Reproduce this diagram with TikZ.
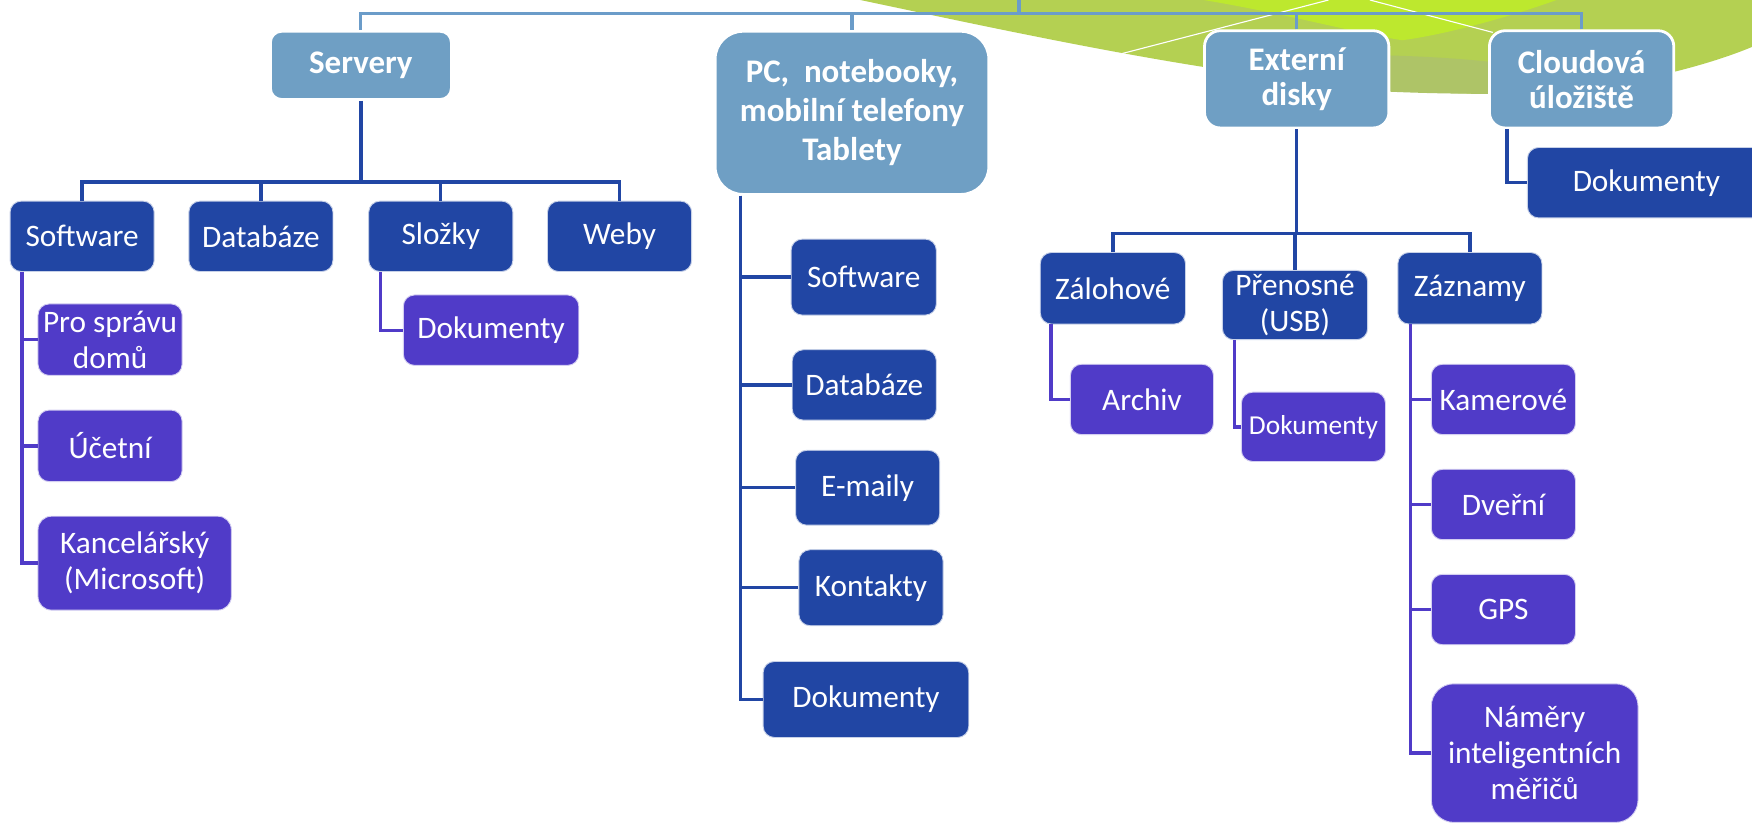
\documentclass[tikz,border=0pt]{standalone}
\usepackage{fontspec}
\setmainfont{Carlito}
\definecolor{headblue}{HTML}{6F9FC4}
\definecolor{linkblue}{HTML}{6B9CC9}
\definecolor{darkblue}{HTML}{2146A4}
\definecolor{purp}{HTML}{503BC8}
\definecolor{olivea}{HTML}{B4D052}
\definecolor{limea}{HTML}{BDE82E}
\definecolor{oliveb}{HTML}{AEC467}
\begin{document}
\begin{tikzpicture}[x=1pt,y=-1pt,
  head/.style={rectangle, rounded corners=14pt, fill=headblue, draw=white, line width=2.5pt, text=white, font=\fontsize{29.5}{35}\selectfont\bfseries, align=center, inner sep=0pt},
  lvltwo/.style={rectangle, rounded corners=10pt, fill=darkblue, draw=white!75!darkblue, line width=0.8pt, text=white, font=\fontsize{28}{32}\selectfont, align=center, inner sep=0pt},
  lvlthree/.style={lvltwo, fill=purp, draw=white!75!purp},
  toplink/.style={draw=linkblue, line width=2.8pt},
  darklink/.style={draw=darkblue, line width=3pt},
  purplink/.style={draw=purp, line width=3pt}]
\useasboundingbox (0,0) rectangle (1568,736);
\fill[white] (0,0) rectangle (1568,736);
% decorative green swoosh
\fill[olivea] (770,0) .. controls (950,38) and (1150,82) .. (1330,84) .. controls (1430,85) and (1520,62) .. (1568,42) -- (1568,0) -- cycle;
\fill[oliveb] (1090,48) .. controls (1170,50) and (1250,46) .. (1340,56) -- (1340,84) .. controls (1250,84) and (1170,80) .. (1090,66) -- cycle;
\fill[limea] (1077,0) .. controls (1150,12) and (1215,30) .. (1255,36) .. controls (1300,30) and (1360,12) .. (1393,0) -- cycle;
\draw[white, line width=1pt] (1004,48) -- (1189,0);
\draw[white, line width=1pt] (1226,0) -- (1336,29);
% top level
\node[head, minimum width=162pt, minimum height=61pt, rounded corners=10pt] (serv) at (323,58.5) {Servery};
\node[head, minimum width=245pt, minimum height=146pt, rounded corners=25pt] (pc) at (762.5,101) {PC,~ notebooky,\\mobilní telefony\\Tablety};
\node[head, minimum width=165pt, minimum height=87pt, font=\fontsize{29.5}{31}\selectfont\bfseries] (ext) at (1160.5,71) {Externí\\disky};
\node[head, minimum width=165pt, minimum height=87pt, font=\fontsize{29.5}{31}\selectfont\bfseries] (cloud) at (1415.5,71) {Cloudová\\úložiště};
\coordinate (rtop) at (912,0);
\coordinate (rbus) at (912,12);
\draw[toplink] (rtop) -- (rbus);
\draw[toplink] (serv.north) |- (rbus);
\draw[toplink] (pc.north) |- (rbus);
\draw[toplink] (ext.north) |- (rbus);
\draw[toplink] (cloud.north) |- (rbus);
% Servery
\node[lvltwo, minimum width=129pt, minimum height=63pt] (ssw) at (73.5,211.5) {Software};
\node[lvltwo, minimum width=129pt, minimum height=63pt] (sdb) at (233.5,211.5) {Databáze};
\node[lvltwo, minimum width=129pt, minimum height=63pt] (ssl) at (394.5,211.5) {Složky};
\node[lvltwo, minimum width=129pt, minimum height=63pt] (swe) at (554.5,211.5) {Weby};
\coordinate (sbus) at (323,163);
\draw[darklink] (serv.south) -- (sbus);
\draw[darklink] (ssw.north) |- (sbus);
\draw[darklink] (sdb.north) |- (sbus);
\draw[darklink] (ssl.north) |- (sbus);
\draw[darklink] (swe.north) |- (sbus);
\node[lvlthree, minimum width=129pt, minimum height=64pt] (psd) at (98.5,304) {Pro správu\\domů};
\node[lvlthree, minimum width=129pt, minimum height=64pt] (uce) at (98.5,399) {Účetní};
\node[lvlthree, minimum width=173pt, minimum height=84pt, rounded corners=12pt] (kan) at (120.5,504) {Kancelářský\\(Microsoft)};
\draw[purplink] ([xshift=11pt]ssw.south west) |- (psd.west);
\draw[purplink] ([xshift=11pt]ssw.south west) |- (uce.west);
\draw[purplink] ([xshift=11pt]ssw.south west) |- (kan.west);
\node[lvlthree, minimum width=157pt, minimum height=63pt] (sdok) at (439.5,295.5) {Dokumenty};
\draw[purplink] ([xshift=11pt]ssl.south west) |- (sdok.west);
% PC
\node[lvltwo, minimum width=130pt, minimum height=68pt] (psw) at (773,248) {Software};
\node[lvltwo, minimum width=129pt, minimum height=63pt] (pdb) at (773.5,344.5) {Databáze};
\node[lvltwo, minimum width=129pt, minimum height=67pt] (pem) at (776.5,436.5) {E-maily};
\node[lvltwo, minimum width=129pt, minimum height=68pt] (pko) at (779.5,526) {Kontakty};
\node[lvltwo, minimum width=184pt, minimum height=68pt] (pdo) at (775,626) {Dokumenty};
\draw[darklink] ([xshift=24pt]pc.south west) |- (psw.west);
\draw[darklink] ([xshift=24pt]pc.south west) |- (pdb.west);
\draw[darklink] ([xshift=24pt]pc.south west) |- (pem.west);
\draw[darklink] ([xshift=24pt]pc.south west) |- (pko.west);
\draw[darklink] ([xshift=24pt]pc.south west) |- (pdo.west);
% Externi disky
\node[lvltwo, minimum width=130pt, minimum height=64pt] (zal) at (996,258) {Zálohové};
\node[lvltwo, minimum width=130pt, minimum height=62pt] (pre) at (1159,273) {Přenosné\\(USB)};
\node[lvltwo, minimum width=129pt, minimum height=64pt] (zaz) at (1315.5,258) {Záznamy};
\coordinate (ebus) at (1160.5,209);
\draw[darklink] (ext.south) -- (ebus);
\draw[darklink] (zal.north) |- (ebus);
\draw[darklink] (pre.north) |- (ebus);
\draw[darklink] (zaz.north) |- (ebus);
\node[lvlthree, minimum width=128pt, minimum height=63pt] (arc) at (1022,357.5) {Archiv};
\draw[purplink] ([xshift=10pt]zal.south west) |- (arc.west);
\node[lvlthree, minimum width=129pt, minimum height=62pt, font=\fontsize{24.5}{28}\selectfont] (edok) at (1175.5,382) {Dokumenty};
\draw[purplink] ([xshift=11pt]pre.south west) |- (edok.west);
\node[lvlthree, minimum width=129pt, minimum height=63pt] (kam) at (1345.5,357.5) {Kamerové};
\node[lvlthree, minimum width=129pt, minimum height=63pt] (dve) at (1345.5,451.5) {Dveřní};
\node[lvlthree, minimum width=129pt, minimum height=63pt] (gps) at (1345.5,545.5) {GPS};
\node[lvlthree, minimum width=185pt, minimum height=124pt, rounded corners=20pt] (nam) at (1373.5,674) {Náměry\\inteligentních\\měřičů};
\draw[purplink] ([xshift=12pt]zaz.south west) |- (kam.west);
\draw[purplink] ([xshift=12pt]zaz.south west) |- (dve.west);
\draw[purplink] ([xshift=12pt]zaz.south west) |- (gps.west);
\draw[purplink] ([xshift=12pt]zaz.south west) |- (nam.west);
% Cloud
\node[lvltwo, minimum width=213pt, minimum height=63pt] (cdok) at (1473.5,163.5) {Dokumenty};
\draw[darklink] ([xshift=17pt]cloud.south west) |- (cdok.west);
\end{tikzpicture}
\end{document}
